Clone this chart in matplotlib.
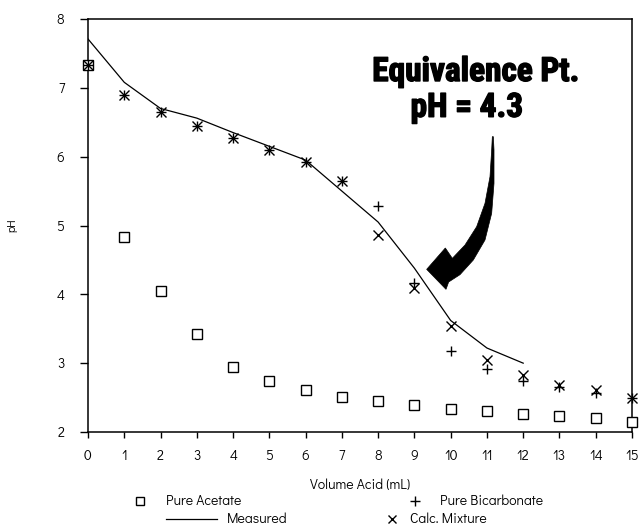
import matplotlib
matplotlib.use("Agg")
import matplotlib.pyplot as plt
import matplotlib.patheffects as pe
from matplotlib.patches import Polygon

plt.rcParams['font.family'] = ['Didact Gothic', 'Questrial', 'DejaVu Sans']

volume = [0, 1, 2, 3, 4, 5, 6, 7, 8, 9, 10, 11, 12, 13, 14, 15]
pure_acetate = [7.33, 4.83, 4.05, 3.43, 2.95, 2.74, 2.61, 2.51, 2.45, 2.39,
                2.34, 2.30, 2.26, 2.23, 2.20, 2.14]
pure_bicarbonate = [7.33, 6.90, 6.65, 6.44, 6.27, 6.09, 5.92, 5.65, 5.29, 4.17,
                    3.17, 2.91, 2.74, 2.65, 2.56, 2.49]
calc_mixture = [7.33, 6.90, 6.65, 6.44, 6.27, 6.09, 5.92, 5.65, 4.86, 4.09,
                3.54, 3.05, 2.83, 2.69, 2.61, 2.49]
measured_volume = [0, 1, 2, 3, 4, 5, 6, 7, 8, 9, 10, 11, 12]
measured_ph = [7.71, 7.08, 6.70, 6.56, 6.35, 6.15, 5.95, 5.50, 5.05, 4.38,
               3.62, 3.22, 3.00]

fig = plt.figure(figsize=(6.42, 5.25), dpi=100)
ax = fig.add_axes([88/642, 1-432/525, (632-88)/642, (432-19)/525])

ax.plot(measured_volume, measured_ph, color='black', lw=0.9, zorder=2)
ax.plot(volume, pure_acetate, ls='none', marker='s', mfc='white', mec='black',
        ms=6.5, mew=1.0, clip_on=False, zorder=3)
ax.plot(volume, pure_bicarbonate, ls='none', marker='+', color='black',
        ms=7, mew=1.0, clip_on=False, zorder=4)
ax.plot(volume, calc_mixture, ls='none', marker='x', color='black',
        ms=6.5, mew=1.0, clip_on=False, zorder=4)

ax.set_xlim(0, 15)
ax.set_ylim(2, 8)
ax.set_xticks(range(0, 16))
ax.set_yticks(range(2, 9))
ax.tick_params(direction='out', width=1, labelsize=10, top=False, right=False)
ax.tick_params(axis='x', length=4.5, pad=8)
ax.tick_params(axis='y', length=6, pad=11)
for s in ax.spines.values():
    s.set_linewidth(1.1)
ax.set_xlabel('Volume Acid (mL)', fontsize=10)
ax.xaxis.set_label_coords(0.5, -0.113)
ax.set_ylabel('pH', fontsize=8)
ax.yaxis.set_label_coords(-0.13, 0.5)

# annotation text
bold_font = dict(family=['Roboto Condensed', 'Liberation Sans Narrow', 'DejaVu Sans'],
                 fontweight='bold', fontsize=24,
                 path_effects=[pe.withStroke(linewidth=1.0, foreground='black')])
ax.text(10.70, 7.23, 'Equivalence Pt.', ha='center', va='center', **bold_font)
ax.text(10.45, 6.71, 'pH = 4.3', ha='center', va='center', **bold_font)

# curved thick arrow (reference pixel outline -> data coords)
def px2data(px, py):
    return ((px - 88) / (632 - 88) * 15, 8 - (py - 19) / (432 - 19) * 6)

zoom_pts = [(577, -40), (575, 0), (570, 80), (555, 160), (530, 230), (495, 285),
            (457, 325), (436, 294), (380, 358), (438, 418), (446, 396),
            (480, 374), (520, 330), (555, 270), (575, 190), (582, 100),
            (582, 0), (580, -40)]
arrow_pts = [px2data(300 + zx / 3, 150 + zy / 3) for zx, zy in zoom_pts]
ax.add_patch(Polygon(arrow_pts, closed=True, facecolor='black',
                     edgecolor='black', lw=0.5, zorder=5))

# legend (manual)
fs = 10
def fx(px):
    return px / 642
def fy(py):
    return 1 - py / 525
ax.plot([fx(140)], [fy(501)], transform=fig.transFigure, ls='none', marker='s',
        mfc='white', mec='black', ms=6, mew=1.0, clip_on=False)
fig.text(fx(166), fy(501), 'Pure Acetate', fontsize=fs, va='center')
ax.plot([fx(415)], [fy(501)], transform=fig.transFigure, ls='none', marker='+',
        color='black', ms=7, mew=1.0, clip_on=False)
fig.text(fx(440), fy(501), 'Pure Bicarbonate', fontsize=fs, va='center')
ax.plot([fx(166), fx(217)], [fy(519), fy(519)], transform=fig.transFigure,
        color='black', lw=0.9, clip_on=False)
fig.text(fx(227), fy(519), 'Measured', fontsize=fs, va='center')
ax.plot([fx(392)], [fy(519)], transform=fig.transFigure, ls='none', marker='x',
        color='black', ms=6, mew=1.0, clip_on=False)
fig.text(fx(410), fy(519), 'Calc. Mixture', fontsize=fs, va='center')

fig.savefig('out.png', dpi=100)
